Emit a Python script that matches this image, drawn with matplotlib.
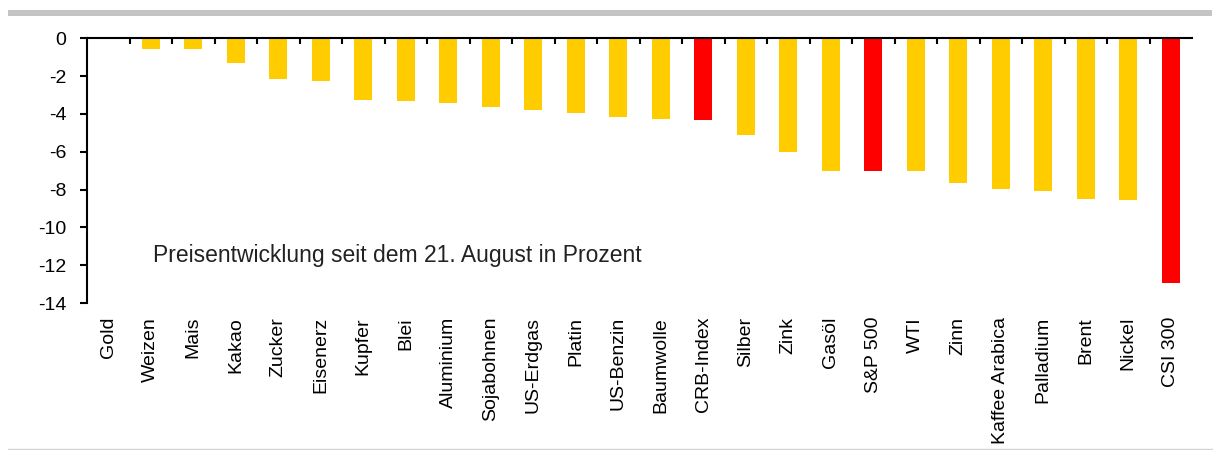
import numpy as np
import matplotlib
matplotlib.use("Agg")
import matplotlib.pyplot as plt
from matplotlib.patches import Rectangle
from matplotlib.lines import Line2D

plt.rcParams["font.family"] = ["Liberation Sans", "DejaVu Sans"]

names = ["Gold", "Weizen", "Mais", "Kakao", "Zucker", "Eisenerz", "Kupfer", "Blei",
         "Aluminium", "Sojabohnen", "US-Erdgas", "Platin", "US-Benzin", "Baumwolle",
         "CRB-Index", "Silber", "Zink", "Gasöl", "S&P 500", "WTI", "Zinn",
         "Kaffee Arabica", "Palladium", "Brent", "Nickel", "CSI 300"]
values = [0.0, -0.57, -0.57, -1.29, -2.15, -2.24, -3.26, -3.32, -3.41, -3.63, -3.79,
          -3.95, -4.15, -4.27, -4.32, -5.12, -6.0, -7.0, -7.0, -7.04, -7.67, -7.99,
          -8.08, -8.48, -8.56, -12.96]
highlight = ["CRB-Index", "S&P 500", "CSI 300"]
yticks = [0, -2, -4, -6, -8, -10, -12, -14]
note = "Preisentwicklung seit dem 21. August in Prozent"

yellow = "#FFCC00"
red = "#FF0000"

fig = plt.figure(figsize=(12.14, 4.5), dpi=100)
ax = fig.add_axes([87 / 1214, 1 - 303 / 450, 1105 / 1214, (303 - 38.3) / 450])

x = np.arange(len(names))
colors = [red if n in highlight else yellow for n in names]
ax.bar(x, values, width=0.42, color=colors, zorder=2)

ax.set_xlim(-0.5, len(names) - 0.5)
ax.set_ylim(-14, 0)
ax.set_yticks(yticks)
ax.set_yticklabels([str(t) for t in yticks], fontsize=14)

ax.set_xticks(x)
ax.set_xticklabels(names, rotation=90, fontsize=14, va="top", ha="center")
ax.tick_params(axis="x", which="major", length=0, pad=10)
ax.set_xticks(np.arange(0.5, len(names) - 1, 1.0), minor=True)
ax.tick_params(axis="x", which="minor", bottom=False, top=True, direction="in",
               length=4, width=1.5)
ax.tick_params(axis="y", direction="out", length=5, width=1.5, pad=10)

for s in ["right", "bottom"]:
    ax.spines[s].set_visible(False)
ax.spines["left"].set_linewidth(1.5)
ax.spines["top"].set_linewidth(1.5)

ax.text(1.05, -11.5, note, fontsize=16.5, va="center", ha="left", color="#222222")

# frame decorations of the source layout
fig.patches.append(Rectangle((8 / 1214, 1 - 16 / 450), 1204 / 1214, 6 / 450,
                             transform=fig.transFigure, color="#c4c4c4", lw=0))
fig.lines.append(Line2D([8 / 1214, 1212 / 1214], [1 - 448.5 / 450] * 2,
                        transform=fig.transFigure, color="#d4d4d4", lw=1))

fig.savefig("out.png", dpi=100)
